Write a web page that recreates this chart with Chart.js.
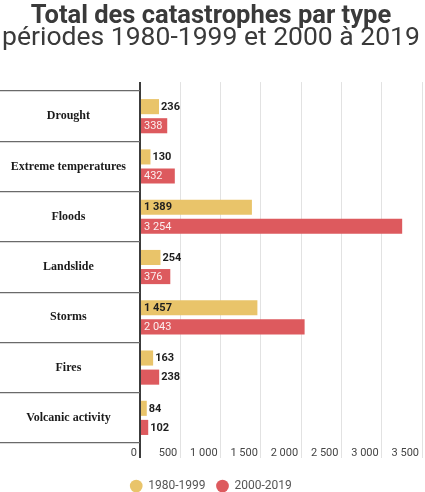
<!DOCTYPE html>
<html>
<head>
<meta charset="utf-8">
<script src="https://cdn.jsdelivr.net/npm/chart.js@4"></script>
<style>
  html, body { margin: 0; padding: 0; background: #fff; }
  #wrap { width: 425px; height: 492px; }
</style>
</head>
<body>
<div id="wrap"><canvas id="chart"></canvas></div>
<script>
/* ---------------- Data ---------------- */

const categories = ["Drought", "Extreme temperatures", "Floods", "Landslide", "Storms", "Fires", "Volcanic activity"];
const seriesNames = ["1980-1999", "2000-2019"];
const values1980 = [236, 130, 1389, 254, 1457, 163, 84];
const values2000 = [338, 432, 3254, 376, 2043, 238, 102];
const xTicks = [0, 500, 1000, 1500, 2000, 2500, 3000, 3500];

const YELLOW = "#e9c46a";
const RED = "#dd5a5e";

function fmt(v) {
    return String(v).replace(/\B(?=(\d{3})+(?!\d))/g, " ");
}

/* ---------------- Value labels ---------------- */

const valueLabels = {
    id: "valueLabels",
    afterDatasetsDraw(chart) {
        const ctx = chart.ctx;
        ctx.save();
        ctx.textBaseline = "middle";
        chart.data.datasets.forEach((ds, di) => {
            const meta = chart.getDatasetMeta(di);
            meta.data.forEach((bar, i) => {
                const txt = fmt(ds.data[i]);
                ctx.font = "bold 11px Roboto";
                const w = ctx.measureText(txt).width;
                const len = bar.x - bar.base;
                ctx.textAlign = "left";
                if (len > w + 6) {
                    ctx.font = di === 0 ? "bold 11px Roboto" : "11px Roboto";
                    ctx.fillStyle = di === 0 ? "#1e1e1e" : "rgba(255,255,255,0.9)";
                    ctx.fillText(txt, bar.base + 3, bar.y + 0.5);
                } else {
                    ctx.fillStyle = "#1e1e1e";
                    ctx.fillText(txt, bar.x + 2, bar.y + 0.5);
                }
            });
        });
        ctx.restore();
    }
};

/* ---------------- Chart ---------------- */

const gridColor = c => (c.tick && c.tick.value === 0 ? "#3c3c3c" : "#e2e2e2");
const gridWidth = c => (c.tick && c.tick.value === 0 ? 2 : 1);

new Chart(document.getElementById("chart"), {
    type: "bar",
    data: {
        labels: categories,
        datasets: [
            { label: seriesNames[0], data: values1980, backgroundColor: YELLOW },
            { label: seriesNames[1], data: values2000, backgroundColor: RED }
        ]
    },
    options: {
        indexAxis: "y",
        responsive: true,
        maintainAspectRatio: false,
        animation: false,
        categoryPercentage: 0.76,
        barPercentage: 0.79,
        layout: { padding: { right: 3, bottom: 0 } },
        scales: {
            x: {
                position: "bottom",
                min: 0,
                max: 3500,
                afterBuildTicks: s => { s.ticks = xTicks.map(v => ({ value: v })); },
                afterFit: s => { s.height = 26; },
                border: { display: false },
                grid: { color: gridColor, lineWidth: gridWidth, tickLength: 15 },
                ticks: {
                    callback: v => fmt(v),
                    align: "end",
                    labelOffset: -3,
                    padding: -11,
                    color: "#444",
                    font: { family: "Roboto", size: 11 }
                }
            },
            xTop: {
                axis: "x",
                position: "top",
                min: 0,
                max: 3500,
                afterBuildTicks: s => { s.ticks = xTicks.map(v => ({ value: v })); },
                border: { display: false },
                grid: { color: gridColor, lineWidth: gridWidth, tickLength: 9, drawOnChartArea: false },
                ticks: { display: false }
            },
            y: {
                border: { display: false },
                grid: {
                    drawOnChartArea: false,
                    tickLength: 140,
                    color: "#6a6a6a",
                    lineWidth: 1.2
                },
                afterFit: s => { s.width = 140; },
                ticks: {
                    crossAlign: "center",
                    padding: -126,
                    color: "#1a1a1a",
                    font: { family: "Liberation Serif", size: 12, weight: "bold" }
                }
            }
        },
        plugins: {
            title: {
                display: true,
                text: "Total des catastrophes par type",
                color: "#3a3a3a",
                font: { family: "Roboto", size: 25.5, weight: "bold", lineHeight: 1.0 },
                padding: { top: 4, bottom: 0 }
            },
            subtitle: {
                display: true,
                text: "périodes 1980-1999 et 2000 à 2019",
                color: "#3a3a3a",
                font: { family: "Roboto", size: 26.5, lineHeight: 0.7 },
                padding: { top: 0, bottom: 34 }
            },
            legend: {
                position: "bottom",
                maxHeight: 23,
                labels: {
                    usePointStyle: true,
                    pointStyle: "circle",
                    boxHeight: 9,
                    color: "#555",
                    padding: 11,
                    font: { family: "Roboto", size: 12 }
                }
            },
            tooltip: { enabled: false }
        }
    },
    plugins: [valueLabels]
});
</script>
</body>
</html>
